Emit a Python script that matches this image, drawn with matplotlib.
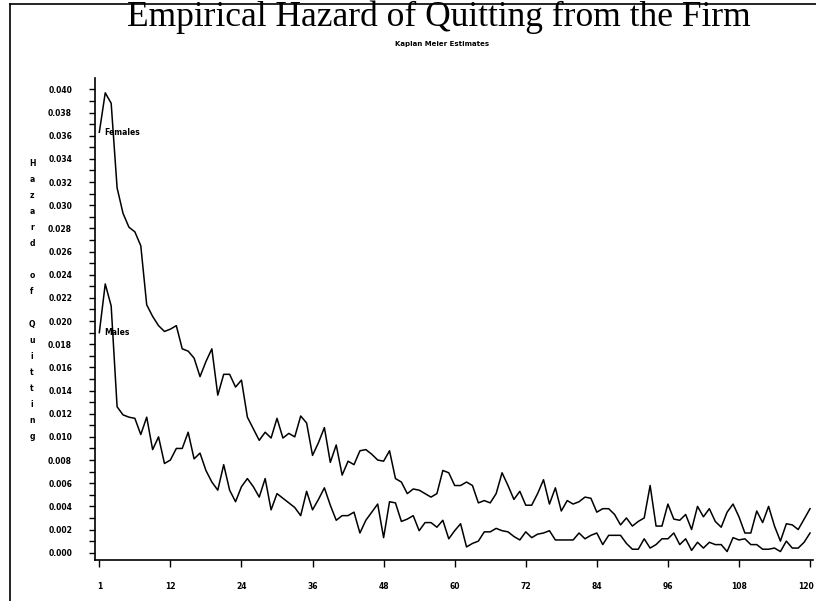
import numpy as np
import matplotlib
matplotlib.use("Agg")
import matplotlib.pyplot as plt
from matplotlib.lines import Line2D
from matplotlib.ticker import MultipleLocator
import matplotlib.transforms as mtransforms

# ---- data ----
period = list(range(0, 121))
females = [
    0.0363, 0.0397, 0.0388, 0.0315, 0.0293, 0.0281, 0.0277, 0.0265, 0.0214, 0.0204,
    0.0196, 0.0191, 0.0193, 0.0196, 0.0176, 0.0174, 0.0168, 0.0152, 0.0165, 0.0176,
    0.0136, 0.0154, 0.0154, 0.0143, 0.0149, 0.0117, 0.0107, 0.0097, 0.0104, 0.0099,
    0.0116, 0.0099, 0.0103, 0.0100, 0.0118, 0.0112, 0.0084, 0.0095, 0.0108, 0.0078,
    0.0093, 0.0067, 0.0079, 0.0076, 0.0088, 0.0089, 0.0085, 0.0080, 0.0079, 0.0088,
    0.0064, 0.0061, 0.0051, 0.0055, 0.0054, 0.0051, 0.0048, 0.0051, 0.0071, 0.0069,
    0.0058, 0.0058, 0.0061, 0.0058, 0.0043, 0.0045, 0.0043, 0.0051, 0.0069, 0.0058,
    0.0046, 0.0053, 0.0041, 0.0041, 0.0051, 0.0063, 0.0042, 0.0056, 0.0036, 0.0045,
    0.0042, 0.0044, 0.0048, 0.0047, 0.0035, 0.0038, 0.0038, 0.0033, 0.0024, 0.0030,
    0.0023, 0.0027, 0.0030, 0.0058, 0.0023, 0.0023, 0.0042, 0.0029, 0.0028, 0.0033,
    0.0020, 0.0040, 0.0031, 0.0038, 0.0027, 0.0022, 0.0035, 0.0042, 0.0031, 0.0017,
    0.0017, 0.0036, 0.0026, 0.0040, 0.0023, 0.0010, 0.0025, 0.0024, 0.0020, 0.0029,
    0.0038]
males = [
    0.0190, 0.0232, 0.0213, 0.0126, 0.0119, 0.0117, 0.0116, 0.0102, 0.0117, 0.0089,
    0.0100, 0.0077, 0.0080, 0.0090, 0.0090, 0.0104, 0.0081, 0.0086, 0.0071, 0.0061,
    0.0054, 0.0076, 0.0054, 0.0044, 0.0057, 0.0064, 0.0057, 0.0048, 0.0064, 0.0037,
    0.0051, 0.0047, 0.0043, 0.0039, 0.0032, 0.0053, 0.0037, 0.0046, 0.0056, 0.0041,
    0.0028, 0.0032, 0.0032, 0.0035, 0.0017, 0.0028, 0.0035, 0.0042, 0.0013, 0.0044,
    0.0043, 0.0027, 0.0029, 0.0032, 0.0019, 0.0026, 0.0026, 0.0022, 0.0028, 0.0012,
    0.0019, 0.0025, 0.0005, 0.0008, 0.0010, 0.0018, 0.0018, 0.0021, 0.0019, 0.0018,
    0.0014, 0.0011, 0.0018, 0.0013, 0.0016, 0.0017, 0.0019, 0.0011, 0.0011, 0.0011,
    0.0011, 0.0017, 0.0012, 0.0015, 0.0017, 0.0007, 0.0015, 0.0015, 0.0015, 0.0008,
    0.0003, 0.0003, 0.0012, 0.0004, 0.0007, 0.0012, 0.0012, 0.0017, 0.0007, 0.0012,
    0.0002, 0.0009, 0.0004, 0.0009, 0.0007, 0.0007, 0.0001, 0.0013, 0.0011, 0.0012,
    0.0007, 0.0007, 0.0003, 0.0003, 0.0004, 0.0001, 0.0010, 0.0004, 0.0004, 0.0009,
    0.0017]
xtick_pos = [0, 12, 24, 36, 48, 60, 72, 84, 96, 108, 120]
xtick_labels = ["1", "12", "24", "36", "48", "60", "72", "84", "96", "108", "120"]
ytick_vals = [0.000, 0.002, 0.004, 0.006, 0.008, 0.010, 0.012, 0.014, 0.016, 0.018,
              0.020, 0.022, 0.024, 0.026, 0.028, 0.030, 0.032, 0.034, 0.036, 0.038, 0.040]
title = "Empirical Hazard of Quitting from the Firm"
subtitle = "Kaplan Meier Estimates"
ylabel = "Hazard of Quitting"
series_labels = ["Females", "Males"]

W, H = 816, 601
fig = plt.figure(figsize=(W / 100, H / 100), dpi=100)
fig.patch.set_facecolor("white")

ax = fig.add_axes([95 / W, 1 - 560 / H, (813 - 95) / W, (560 - 78) / H])
ax.plot(period, females, color="black", lw=1.1)
ax.plot(period, males, color="black", lw=1.1)

ax.set_xlim(-0.73, 120.5)
ax.set_ylim(-0.00063, 0.04098)

for s in ["top", "right"]:
    ax.spines[s].set_visible(False)
for s in ["left", "bottom"]:
    ax.spines[s].set_linewidth(1.2)

ax.set_xticks(xtick_pos)
ax.set_xticklabels(xtick_labels)
ax.set_yticks(ytick_vals)
ax.set_yticklabels([f"{v:.3f}" for v in ytick_vals])
ax.yaxis.set_minor_locator(MultipleLocator(0.001))
ax.tick_params(axis="y", which="both", direction="out", length=4, width=1.0,
               pad=12.5, labelsize=5.5)
ax.tick_params(axis="x", which="both", direction="out", length=5, width=1.0,
               pad=10.5, labelsize=5.5)
for lab in ax.get_xticklabels() + ax.get_yticklabels():
    lab.set_fontweight("bold")
# keep the last x label inside the page
last = ax.get_xticklabels()[-1]
last.set_transform(last.get_transform() +
                   mtransforms.ScaledTranslation(-4 / 100, 0, fig.dpi_scale_trans))

# series labels next to the first points
ax.text(0.9, females[0], series_labels[0], fontsize=5.5, fontweight="bold",
        ha="left", va="center")
ax.text(0.9, males[0], series_labels[1], fontsize=5.5, fontweight="bold",
        ha="left", va="center")

# stacked y-label letters
row = 0
for ch in ylabel:
    if ch != " ":
        fig.text(32 / W, 1 - (163 + row * 16.1) / H, ch, fontsize=5.5,
                 fontweight="bold", ha="center", va="center")
    row += 1

# titles
fig.text(439 / W, 1 - 1 / H, title, fontsize=25.5, family="Liberation Serif",
         ha="center", va="top")
fig.text(442 / W, 1 - 44 / H, subtitle, fontsize=5, fontweight="bold",
         ha="center", va="center")

# page frame (left and top)
fig.add_artist(Line2D([10 / W, 10 / W], [0, 1 - 4 / H], transform=fig.transFigure,
                      color="black", lw=1.2))
fig.add_artist(Line2D([10 / W, 1], [1 - 4 / H, 1 - 4 / H], transform=fig.transFigure,
                      color="black", lw=1.2))

fig.savefig("out.png", dpi=100, facecolor="white")
